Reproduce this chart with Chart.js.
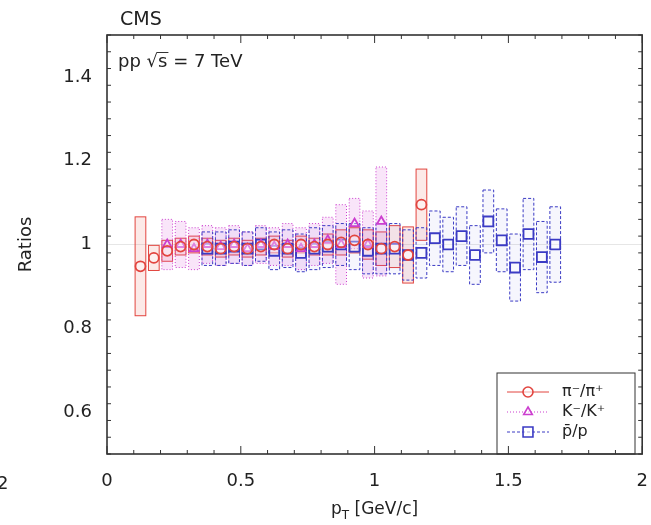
<!DOCTYPE html>
<html>
<head>
<meta charset="utf-8">
<script src="https://cdn.jsdelivr.net/npm/chart.js@4.4.0/dist/chart.umd.min.js"></script>
<style>
html, body { margin: 0; padding: 0; background: #fff; }
canvas { display: block; }
</style>
</head>
<body>
<canvas id="ratios" width="651" height="525"></canvas>
<script>
// axis ticks
const xTicks = [0, 0.5, 1, 1.5, 2];
const yTicks = [0.6, 0.8, 1, 1.2, 1.4];

// pi-/pi+
const pionPt = [0.125, 0.175, 0.225, 0.275, 0.325, 0.375, 0.425, 0.475, 0.525, 0.575, 0.625,
  0.675, 0.725, 0.775, 0.825, 0.875, 0.925, 0.975, 1.025, 1.075, 1.125, 1.175];
const pionRatio = [0.948, 0.968, 0.985, 0.995, 1.0, 0.995, 0.99, 0.995, 0.99, 0.995, 1.0,
  0.99, 1.0, 0.995, 1.0, 1.005, 1.01, 1.0, 0.99, 0.995, 0.975, 1.095];
const pionSys = [0.118, 0.03, 0.025, 0.02, 0.02, 0.02, 0.02, 0.02, 0.02, 0.02, 0.02,
  0.02, 0.02, 0.02, 0.025, 0.03, 0.03, 0.035, 0.04, 0.05, 0.067, 0.085];

// K-/K+
const kaonPt = [0.225, 0.275, 0.325, 0.375, 0.425, 0.475, 0.525, 0.575, 0.625, 0.675,
  0.725, 0.775, 0.825, 0.875, 0.925, 0.975, 1.025];
const kaonRatio = [1.0, 1.0, 0.99, 1.0, 0.995, 1.0, 0.99, 1.0, 0.995, 1.0,
  0.99, 1.0, 1.01, 1.0, 1.05, 1.0, 1.055];
const kaonSys = [0.06, 0.055, 0.05, 0.045, 0.045, 0.045, 0.04, 0.045, 0.045, 0.05,
  0.05, 0.05, 0.055, 0.095, 0.06, 0.08, 0.13];

// pbar/p
const protonPt = [0.375, 0.425, 0.475, 0.525, 0.575, 0.625, 0.675, 0.725, 0.775, 0.825,
  0.875, 0.925, 0.975, 1.025, 1.075, 1.125, 1.175, 1.225, 1.275, 1.325, 1.375, 1.425,
  1.475, 1.525, 1.575, 1.625, 1.675];
const protonRatio = [0.99, 0.99, 0.995, 0.99, 1.0, 0.985, 0.99, 0.98, 0.99, 0.995,
  1.0, 0.995, 0.985, 0.99, 0.99, 0.975, 0.98, 1.015, 1.0, 1.02, 0.975, 1.055,
  1.01, 0.945, 1.025, 0.97, 1.0];
const protonSys = [0.04, 0.04, 0.04, 0.04, 0.04, 0.045, 0.045, 0.045, 0.05, 0.05,
  0.05, 0.055, 0.055, 0.06, 0.06, 0.06, 0.06, 0.065, 0.065, 0.07, 0.07, 0.075,
  0.075, 0.08, 0.085, 0.085, 0.09];

const PION = '#e2453f', KAON = '#cc3fcf', PROTON = '#3b3bc4';
const FONT = '"DejaVu Sans", "Liberation Sans", sans-serif';

const toPoints = (pt, r) => pt.map((p, i) => ({ x: p, y: r[i] }));

const series = [
  { pt: pionPt, ratio: pionRatio, sys: pionSys, stroke: PION, fill: 'rgba(235,90,80,0.13)', dash: [] },
  { pt: kaonPt, ratio: kaonRatio, sys: kaonSys, stroke: KAON, fill: 'rgba(210,70,215,0.14)', dash: [1, 2] },
  { pt: protonPt, ratio: protonRatio, sys: protonSys, stroke: PROTON, fill: 'rgba(80,80,210,0.05)', dash: [3, 2] }
];

// systematic boxes + line at 1, behind the markers
const boxPlugin = {
  id: 'sysBoxes',
  beforeDatasetsDraw(chart) {
    const { ctx, chartArea: a, scales: { x, y } } = chart;
    ctx.save();
    ctx.beginPath();
    ctx.rect(a.left, a.top, a.right - a.left, a.bottom - a.top);
    ctx.clip();
    ctx.strokeStyle = '#e6e6e6';
    ctx.lineWidth = 1;
    ctx.beginPath();
    ctx.moveTo(a.left, y.getPixelForValue(1));
    ctx.lineTo(a.right, y.getPixelForValue(1));
    ctx.stroke();
    series.forEach(s => {
      ctx.setLineDash(s.dash);
      ctx.strokeStyle = s.stroke;
      ctx.fillStyle = s.fill;
      s.pt.forEach((p, i) => {
        const x0 = x.getPixelForValue(p - 0.02), x1 = x.getPixelForValue(p + 0.02);
        const y0 = y.getPixelForValue(s.ratio[i] + s.sys[i]);
        const y1 = y.getPixelForValue(s.ratio[i] - s.sys[i]);
        ctx.fillRect(x0, y0, x1 - x0, y1 - y0);
        ctx.strokeRect(x0, y0, x1 - x0, y1 - y0);
      });
    });
    ctx.restore();
  }
};

// frame, inward ticks, labels and legend
const framePlugin = {
  id: 'frame',
  afterDraw(chart) {
    const { ctx, chartArea: a, scales: { x, y } } = chart;
    ctx.save();
    ctx.strokeStyle = '#333';
    ctx.lineWidth = 1;
    for (let i = 0; i <= 20; i++) {
      const px = x.getPixelForValue(i / 10);
      const len = i % 5 === 0 ? 8 : 4;
      ctx.beginPath();
      ctx.moveTo(px, a.bottom); ctx.lineTo(px, a.bottom - len);
      ctx.moveTo(px, a.top); ctx.lineTo(px, a.top + len);
      ctx.stroke();
    }
    for (let i = 0; i <= 25; i++) {
      const v = 0.5 + i * 0.04;
      const py = y.getPixelForValue(v);
      const major = Math.abs(v * 5 - Math.round(v * 5)) < 1e-6;
      const len = major ? 8 : 4;
      ctx.beginPath();
      ctx.moveTo(a.left, py); ctx.lineTo(a.left + len, py);
      ctx.moveTo(a.right, py); ctx.lineTo(a.right - len, py);
      ctx.stroke();
    }
    ctx.lineWidth = 1.6;
    ctx.strokeRect(a.left, a.top, a.right - a.left, a.bottom - a.top);

    ctx.fillStyle = '#222';
    ctx.textBaseline = 'alphabetic';
    ctx.textAlign = 'left';
    ctx.font = '19px ' + FONT;
    ctx.fillText('CMS', 120, 25);

    // pp sqrt(s) = 7 TeV
    ctx.font = '18px ' + FONT;
    let tx = 118;
    ctx.fillText('pp ', tx, 67); tx += ctx.measureText('pp ').width;
    ctx.fillText('\u221A', tx, 67); tx += ctx.measureText('\u221A').width;
    const sw = ctx.measureText('s').width;
    ctx.fillText('s', tx, 67);
    ctx.lineWidth = 1;
    ctx.beginPath(); ctx.moveTo(tx - 1, 52.5); ctx.lineTo(tx + sw + 1, 52.5); ctx.stroke();
    tx += sw;
    ctx.fillText(' = 7 TeV', tx, 67);

    // x title with subscript
    ctx.font = '17px ' + FONT;
    const t1 = 'p', t3 = ' [GeV/c]';
    const w1 = ctx.measureText(t1).width, w3 = ctx.measureText(t3).width;
    ctx.font = '12px ' + FONT;
    const w2 = ctx.measureText('T').width;
    let xx = (a.left + a.right) / 2 - (w1 + w2 + w3) / 2;
    ctx.font = '17px ' + FONT;
    ctx.fillText(t1, xx, 514); xx += w1;
    ctx.font = '12px ' + FONT;
    ctx.fillText('T', xx, 519); xx += w2;
    ctx.font = '17px ' + FONT;
    ctx.fillText(t3, xx, 514);

    // neighbouring panel's tick label
    ctx.font = '18px ' + FONT;
    ctx.fillText('2', -3, 489);

    // legend
    ctx.lineWidth = 1;
    ctx.strokeStyle = '#333';
    ctx.strokeRect(497, 373, 138, a.bottom - 373);
    const rows = [
      { label: 'π\u207B/π\u207A', color: PION, style: 'circle', r: 5, dash: [] },
      { label: 'K\u207B/K\u207A', color: KAON, style: 'triangle', r: 5, dash: [1, 2] },
      { label: 'p\u0304/p', color: PROTON, style: 'rect', r: 7, dash: [3, 2] }
    ];
    ctx.font = '16px ' + FONT;
    ctx.textBaseline = 'middle';
    rows.forEach((row, i) => {
      const ry = 392 + i * 20;
      ctx.strokeStyle = row.color;
      ctx.setLineDash(row.dash);
      ctx.lineWidth = 1;
      ctx.beginPath(); ctx.moveTo(507, ry); ctx.lineTo(549, ry); ctx.stroke();
      ctx.setLineDash([]);
      ctx.lineWidth = 1.6;
      ctx.fillStyle = 'rgba(255,255,255,0.6)';
      Chart.helpers.drawPoint(ctx, { pointStyle: row.style, radius: row.r, borderWidth: 1.6 }, 528, ry);
      ctx.fillStyle = '#222';
      ctx.fillText(row.label, 562, ry);
    });
    ctx.restore();
  }
};

const pointDataset = (label, pt, r, color, style, radius) => ({
  label: label,
  data: toPoints(pt, r),
  pointStyle: style,
  pointRadius: radius,
  pointBorderWidth: 1.8,
  borderColor: color,
  backgroundColor: 'rgba(255,255,255,0.35)',
  showLine: false
});

new Chart(document.getElementById('ratios'), {
  type: 'scatter',
  data: {
    datasets: [
      pointDataset('pi', pionPt, pionRatio, PION, 'circle', 5),
      pointDataset('K', kaonPt, kaonRatio, KAON, 'triangle', 5),
      pointDataset('p', protonPt, protonRatio, PROTON, 'rect', 7)
    ]
  },
  options: {
    responsive: false,
    animation: false,
    layout: { padding: { top: 35, right: 4, bottom: 0, left: 0 } },
    plugins: { legend: { display: false }, tooltip: { enabled: false } },
    scales: {
      x: {
        type: 'linear', min: 0, max: 2,
        grid: { display: false, drawTicks: false },
        border: { display: false },
        afterBuildTicks: s => { s.ticks = xTicks.map(v => ({ value: v })); },
        afterFit: s => { s.height = 71; s.paddingLeft = 0; s.paddingRight = 0; },
        ticks: {
          padding: 17, color: '#222', font: { family: FONT, size: 18 },
          maxRotation: 0, autoSkip: false,
          callback: v => String(+v.toFixed(2))
        }
      },
      y: {
        type: 'linear', min: 0.5, max: 1.5,
        grid: { display: false, drawTicks: false },
        border: { display: false },
        afterBuildTicks: s => { s.ticks = yTicks.map(v => ({ value: v })); },
        afterFit: s => { s.width = 107; s.paddingTop = 0; s.paddingBottom = 0; },
        title: { display: true, text: 'Ratios', color: '#222', font: { family: FONT, size: 18 }, padding: { top: 16, bottom: 0 } },
        ticks: {
          padding: 15, color: '#222', font: { family: FONT, size: 18 },
          autoSkip: false,
          callback: v => String(+v.toFixed(2))
        }
      }
    }
  },
  plugins: [boxPlugin, framePlugin]
});
</script>
</body>
</html>
